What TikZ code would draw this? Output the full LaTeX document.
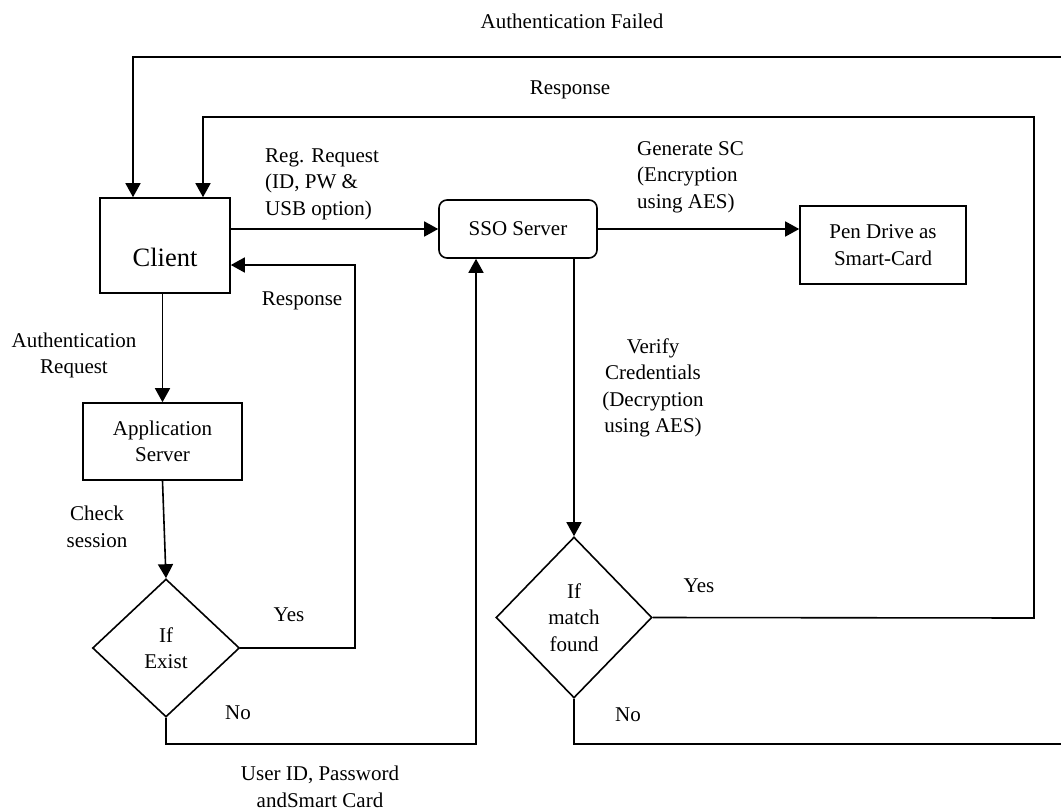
\documentclass[tikz,border=0pt]{standalone}
\usepackage{fontspec}
\setmainfont{Liberation Serif}
\usetikzlibrary{arrows.meta,shapes.geometric,calc}
\begin{document}
\begin{tikzpicture}[x=1pt,y=-1pt,
  every node/.style={font=\fontsize{21pt}{26.5pt}\selectfont, inner sep=0pt, align=center},
  box/.style={draw, line width=1.6pt, rectangle},
  rbox/.style={draw, line width=1.6pt, rectangle, rounded corners=8pt},
  dia/.style={draw, line width=1.6pt, diamond, inner sep=0pt},
  arr/.style={line width=1.6pt, -{Triangle[length=14pt,width=15pt]}}]
\useasboundingbox (0,0) rectangle (1061,811);
\clip (0,0) rectangle (1061,811);

% nodes
\node[box, minimum width=130pt, minimum height=95pt] (client) at (165,245.5) {\raisebox{-21pt}[0pt][0pt]{\fontsize{26.5pt}{30pt}\selectfont Client}};
\node[rbox, minimum width=158pt, minimum height=58pt] (sso) at (518,229) {SSO Server};
\node[box, minimum width=166pt, minimum height=78pt] (pen) at (883,245) {Pen Drive as\\Smart-Card};
\node[box, minimum width=159pt, minimum height=77pt] (app) at (162.5,441.5) {Application\\Server};
\node[dia, minimum width=147pt, minimum height=138pt] (exist) at (166,648) {If\\Exist};
\node[dia, minimum width=156pt, minimum height=161pt] (match) at (574,617.5) {If\\match\\found};

% helper coordinates
\coordinate (frR) at (1080,744);
\coordinate (frT) at (1080,57);
\coordinate (rsR) at (1034,618);
\coordinate (rsT) at (1034,117);
\coordinate (exR) at (355,648);
\coordinate (exT) at (355,265);
\coordinate (noB) at (476,744);

% connectors
\draw[arr] (match.south) -- (match.south |- frR) -- (frR) -- (frT) -- (133,57) -- (client.north -| 133,0);
\draw[arr] (match.east) -- (rsR) -- (rsT) -- (203,117) -- (client.north -| 203,0);
\draw[arr] (client.east |- sso.west) -- (sso.west);
\draw[arr] (sso.east) -- (pen.west |- sso.east);
\draw[arr] (match.north |- sso.south) -- (match.north);
\draw[arr] (app.north |- client.south) -- (app.north);
\draw[arr] (app.south) -- (exist.north);
\draw[arr] (exist.east) -- (exR) -- (exT) -- (client.east |- exT);
\draw[arr] (exist.south) -- (exist.south |- noB) -- (noB) -- (sso.south -| noB);

% labels
\node (lAF) at (572,21) {Authentication Failed};
\node (lResp1) at (570,90) {Response};
\node[anchor=west, align=left] (lReg) at (265,184) {Reg. Request\\(ID, PW \&\\USB option)};
\node[anchor=west, align=left] (lGen) at (637,177) {Generate SC\\(Encryption\\using AES)};
\node (lResp2) at (302,301) {Response};
\node (lAuth) at (74,355.5) {Authentication\\Request};
\node (lCheck) at (97,527) {Check\\session};
\node (lYes1) at (289,615) {Yes};
\node (lNo1) at (238,713) {No};
\node (lUser) at (320,787) {User ID, Password\\andSmart Card};
\node (lVer) at (653,388) {Verify\\Credentials\\(Decryption\\using AES)};
\node (lYes2) at (699,586) {Yes};
\node (lNo2) at (628,715) {No};
\end{tikzpicture}
\end{document}
